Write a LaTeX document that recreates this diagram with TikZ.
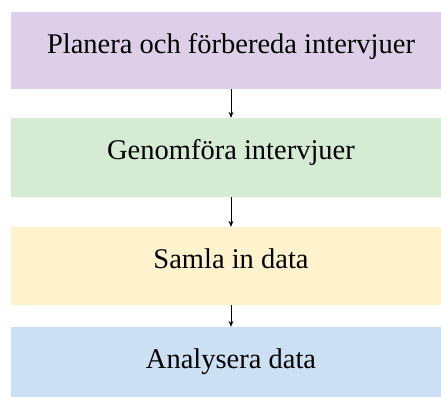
\documentclass[tikz,border=0pt]{standalone}
\usepackage{fontspec}
\setmainfont{Liberation Serif}
\usetikzlibrary{shapes,arrows,arrows.meta}
\definecolor{planfill}{RGB}{221,207,232}
\definecolor{conductfill}{RGB}{213,235,211}
\definecolor{collectfill}{RGB}{255,243,205}
\definecolor{analysefill}{RGB}{204,224,243}
\tikzstyle{phase} = [rectangle, minimum width=440pt, inner sep=0pt, text height=41pt, font=\fontsize{28.5}{34}\selectfont]
\tikzstyle{arrow} = [line width=1pt, ->, >={Stealth[length=6pt,width=5pt]}]
\begin{document}
\begin{tikzpicture}[node distance=107pt]
\useasboundingbox (0,0) rectangle (441pt,-396pt);

\node (plan) [phase, fill=planfill, text depth=36pt] at (231pt,-50.5pt) {Planera och förbereda intervjuer};
\node (conduct) [phase, below of=plan, fill=conductfill, text depth=38pt] {Genomföra intervjuer};
\node (collect) [phase, below of=conduct, yshift=-1.5pt, fill=collectfill, text depth=37pt] {Samla in data};
\node (analyse) [phase, below of=collect, yshift=10.5pt, fill=analysefill, text depth=30pt] {Analysera data};

\draw [arrow] (plan) -- (conduct);
\draw [arrow] (conduct) -- (collect);
\draw [arrow] (collect) -- (analyse);

\end{tikzpicture}
\end{document}
